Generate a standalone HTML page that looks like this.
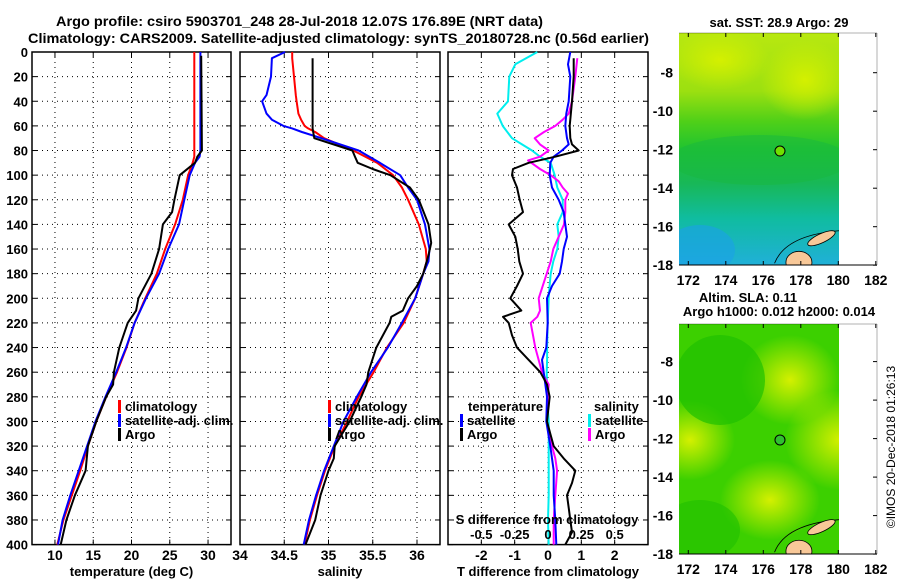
<!DOCTYPE html>
<html><head><meta charset="utf-8"><style>
body{margin:0;background:#fff;width:900px;height:580px;overflow:hidden}
svg{display:block;font-family:"Liberation Sans",sans-serif;font-weight:bold}
</style></head><body>
<svg id="c" width="900" height="580" xmlns="http://www.w3.org/2000/svg">
<defs>
<linearGradient id="sstg" x1="0" y1="0" x2="0" y2="1">
<stop offset="0" stop-color="#b8e810"/><stop offset="0.25" stop-color="#9ce010"/>
<stop offset="0.38" stop-color="#50d018"/><stop offset="0.5" stop-color="#20c430"/>
<stop offset="0.65" stop-color="#18b858"/><stop offset="0.8" stop-color="#10bca0"/>
<stop offset="1" stop-color="#20b0d8"/></linearGradient>
<radialGradient id="yel" cx="0.5" cy="0.5" r="0.5"><stop offset="0" stop-color="#d4f000"/><stop offset="1" stop-color="#d4f000" stop-opacity="0"/></radialGradient>
<clipPath id="clipSst"><rect x="679" y="33" width="160" height="232"/></clipPath>
<clipPath id="clipSla"><rect x="679" y="324" width="160" height="230"/></clipPath>
</defs>
<text x="56" y="26" font-size="14" textLength="487" lengthAdjust="spacingAndGlyphs">Argo profile: csiro 5903701_248 28-Jul-2018 12.07S 176.89E (NRT data)</text>
<text x="28" y="43" font-size="14" textLength="621" lengthAdjust="spacingAndGlyphs">Climatology: CARS2009. Satellite-adjusted climatology: synTS_20180728.nc (0.56d earlier)</text>
<g id="g"></g>
</svg>
<script>
// ---- data ----
const depthT = [0,80,85,90,100,120,140,160,180,200,220,240,260,280,300,320,340,360,380,400];
const tempClim = [28.2,28.2,28.2,28.0,27.4,26.7,25.7,24.4,23.3,21.8,20.4,19.35,18.1,16.7,15.4,14.3,13.3,12.2,11.1,10.3];
const tempSat = [29.0,29.0,28.9,28.3,27.6,26.9,26.2,24.8,23.6,21.9,20.4,19.3,18.0,16.6,15.3,14.2,13.1,12.0,11.0,10.4];
const depthTA = [3,80,85,90,100,120,130,140,160,180,200,210,220,240,260,270,280,300,320,340,360,380,400];
const tempArgo = [29.1,29.2,28.6,28.3,26.3,25.6,25.3,24.1,23.6,22.6,20.9,20.6,19.5,18.4,17.7,17.6,16.7,15.4,14.3,14.0,12.6,11.5,10.75];
const depthS = [0,5,20,35,40,50,55,60,62,65,70,80,90,100,110,120,140,160,170,180,200,220,240,260,280,300,320,340,360,380,400];
const salClim = [34.59,34.59,34.61,34.63,34.64,34.66,34.69,34.73,34.77,34.85,34.95,35.28,35.55,35.73,35.83,35.90,36.02,36.10,36.11,36.07,35.98,35.85,35.66,35.51,35.34,35.21,35.07,34.96,34.87,34.79,34.73];
const salSat = [34.51,34.36,34.35,34.30,34.25,34.30,34.36,34.49,34.59,34.70,34.92,35.34,35.58,35.81,35.90,36.00,36.09,36.14,36.13,36.07,35.98,35.83,35.67,35.48,35.32,35.17,35.06,34.95,34.86,34.78,34.72];
const depthSA = [5,60,62,70,80,85,90,95,100,110,120,140,155,165,180,190,200,210,215,220,240,260,270,280,300,320,330,340,360,380,400];
const salArgo = [34.82,34.82,34.82,34.84,35.27,35.30,35.33,35.50,35.70,35.92,36.02,36.13,36.16,36.13,36.07,36.00,35.90,35.84,35.71,35.69,35.54,35.45,35.43,35.37,35.24,35.07,35.06,35.00,34.91,34.85,34.74];
const depthD = [0,10,20,40,50,60,70,75,80,85,90,100,110,120,130,140,150,160,170,180,190,200,220,240,250,260,280,300,320,340,360,380,400];
const tdiffSat = [0.67,0.6,0.67,0.62,0.55,0.52,0.57,0.62,0.42,0.17,0.07,0.05,0.12,0.32,0.47,0.52,0.57,0.47,0.42,0.35,0.12,-0.03,-0.01,-0.05,-0.18,-0.13,-0.03,-0.05,0.07,0.17,0.17,0.22,0.25];
const depthDA = [5,20,40,60,70,75,80,85,90,95,100,110,120,130,140,150,160,170,180,190,200,210,215,220,230,240,250,260,265,270,280,300,310,320,330,340,350,360,370,380,390,400];
const tdiffArgo = [0.77,0.77,0.72,0.65,0.67,0.72,0.92,0.22,-0.58,-1.05,-1.08,-0.93,-0.85,-0.75,-1.18,-0.98,-0.91,-0.86,-0.75,-0.93,-1.13,-0.8,-1.35,-1.18,-1.08,-0.93,-0.58,-0.23,-0.13,-0.03,0.05,-0.03,0.07,0.17,0.47,0.82,0.72,0.57,0.62,0.67,0.72,0.52];
const sdiffSat = [-0.08,-0.245,-0.29,-0.30,-0.38,-0.34,-0.27,-0.195,-0.12,-0.06,0.02,0.05,0.07,0.11,0.11,0.07,0.08,0.07,0.04,0.02,0.012,0.005,-0.002,-0.007,-0.007,-0.01,-0.007,0.005,0.005,0.005,0.005,0.0,0.005];
const depthSD = [5,20,40,50,55,60,65,70,75,80,85,88,95,100,105,110,115,120,130,140,150,160,170,180,200,210,215,220,240,260,265,270,280,300,320,330,340,360,380,400];
const sdiffArgo = [0.22,0.205,0.18,0.155,0.11,0.055,-0.03,-0.1,-0.06,0.005,-0.06,-0.15,-0.06,0.02,0.08,0.11,0.15,0.13,0.13,0.12,0.08,0.04,0.02,-0.01,-0.07,-0.06,-0.08,-0.13,-0.095,-0.045,-0.02,0.005,-0.002,-0.012,0.03,0.055,0.068,0.055,0.043,0.043];
const depthTicks = [0,20,40,60,80,100,120,140,160,180,200,220,240,260,280,300,320,340,360,380,400];
const tTicks = [10,15,20,25,30];
const sTicks = [34,34.5,35,35.5,36];
const dTicks = [-2,-1,0,1,2];
const sdTicks = [-0.5,-0.25,0,0.25,0.5];
const sdTickLabels = ['-0.5','-0.25','0','0.25','0.5'];
const lonTicks = [172,174,176,178,180,182];
const latTicks = [-8,-10,-12,-14,-16,-18];
const argoLon = 176.89, argoLat = -12.07;

// ---- scales ----
const top0=52, bot0=544.6;
const yD = d => top0 + d*(bot0-top0)/400;
const P1={x0:32,x1:231,v0:7,v1:33}, P2={x0:240,x1:440,v0:34,v1:36.26}, P3={x0:448,x1:648,v0:-3,v1:3};
const sx = (P,v) => P.x0 + (v-P.v0)*(P.x1-P.x0)/(P.v1-P.v0);
const sxS = v => sx(P3, v*4);
const lonX = lon => 688.3 + (lon-172)*18.75;
const latYTop = lat => 72.7 + (-8-lat)*19.25;
const latYBot = lat => 361.6 + (-8-lat)*19.25;

const NS='http://www.w3.org/2000/svg';
const G=document.getElementById('g');
function mk(tag, attrs, parent){const e=document.createElementNS(NS,tag);for(const k in attrs)e.setAttribute(k,attrs[k]);(parent||G).appendChild(e);return e;}
function txt(x,y,s,size,anchor,parent){const e=mk('text',{x:x,y:y,'font-size':size,'text-anchor':anchor||'start'},parent);e.textContent=s;return e;}

function panel(P,name,ticks,fmt,xTitle,tx){
  const f=mk('rect',{x:P.x0,y:top0,width:P.x1-P.x0,height:bot0-top0,fill:'none',stroke:'#000','stroke-width':1.5});
  
  
  depthTicks.forEach(d=>{ if(d>0&&d<400){const l=mk('line',{x1:P.x0,x2:P.x1,y1:yD(d),y2:yD(d),stroke:'#000','stroke-dasharray':'1,4'});
    
    }
    mk('line',{x1:P.x0,x2:P.x0+5,y1:yD(d),y2:yD(d),stroke:'#000'});mk('line',{x1:P.x1-5,x2:P.x1,y1:yD(d),y2:yD(d),stroke:'#000'});});
  ticks.forEach((v,i)=>{const x=tx(v);
    if(x>P.x0+1&&x<P.x1-1){const l=mk('line',{x1:x,x2:x,y1:top0,y2:bot0,stroke:'#000','stroke-dasharray':'1,4'});
      
      }
    mk('line',{x1:x,x2:x,y1:top0,y2:top0+5,stroke:'#000'});mk('line',{x1:x,x2:x,y1:bot0-5,y2:bot0,stroke:'#000'});
    const t=txt(x,560,fmt(v),14,'middle');
    
    });
  const tt=txt((P.x0+P.x1)/2,576,xTitle,13,'middle');
  
  
}
function line(xs,ds,fx,color,name,w){
  const pts=xs.map((v,i)=>fx(v).toFixed(1)+','+yD(ds[i]).toFixed(1)).join(' ');
  const p=mk('polyline',{points:pts,fill:'none',stroke:color,'stroke-width':w||2,'stroke-linejoin':'round'});
  
  
}
function legend(x,y,color,label,name){
  const r=mk('rect',{x:x,y:y-11,width:3,height:13,fill:color});
  
  
  const t=txt(x+7,y,label,13,'start');
  
  
}

depthTicks.forEach(d=>{const t=txt(28,yD(d)+5,String(d),13,'end');
  
  });

panel(P1,'temperature-panel',tTicks,v=>String(v),'temperature (deg C)',v=>sx(P1,v));
panel(P2,'salinity-panel',sTicks,v=>String(v),'salinity',v=>sx(P2,v));
panel(P3,'difference-panel',dTicks,v=>String(v),'T difference from climatology',v=>sx(P3,v));

line(tempClim,depthT,v=>sx(P1,v),'#ff0000','temperature-climatology-line');
line(tempSat,depthT,v=>sx(P1,v),'#0000ff','temperature-satellite-line');
line(tempArgo,depthTA,v=>sx(P1,v),'#000000','temperature-argo-line');
line(salClim,depthS,v=>sx(P2,v),'#ff0000','salinity-climatology-line');
line(salSat,depthS,v=>sx(P2,v),'#0000ff','salinity-satellite-line');
line(salArgo,depthSA,v=>sx(P2,v),'#000000','salinity-argo-line');
line(sdiffSat,depthD,sxS,'#00eeee','sdiff-satellite-line');
line(sdiffArgo,depthSD,sxS,'#ff00ff','sdiff-argo-line');
line(tdiffSat,depthD,v=>sx(P3,v),'#0000ff','tdiff-satellite-line');
line(tdiffArgo,depthDA,v=>sx(P3,v),'#000000','tdiff-argo-line');

legend(118,411,'#ff0000','climatology','legend-temp-climatology');
legend(118,425,'#0000ff','satellite-adj. clim.','legend-temp-satellite');
legend(118,439,'#000000','Argo','legend-temp-argo');
legend(328,411,'#ff0000','climatology','legend-sal-climatology');
legend(328,425,'#0000ff','satellite-adj. clim.','legend-sal-satellite');
legend(328,439,'#000000','Argo','legend-sal-argo');
{const t=txt(468,411,'temperature',13);}
legend(460,425,'#0000ff','satellite','legend-tdiff-satellite');
legend(460,439,'#000000','Argo','legend-tdiff-argo');
{const t=txt(594,411,'salinity',13);}
legend(588,425,'#00eeee','satellite','legend-sdiff-satellite');
legend(588,439,'#ff00ff','Argo','legend-sdiff-argo');
{const t=txt(547,524,'S difference from climatology',13,'middle');}
sdTicks.forEach((v,i)=>{const t=txt(sxS(v),539,sdTickLabels[i],13,'middle');
  
  });

// ---- maps ----
function map(kind,latY,top,bot){
  const clip=kind==='sst'?'clipSst':'clipSla';
  const g=mk('g',{'clip-path':'url(#'+clip+')'});
  
  
  if(kind==='sst'){
    mk('rect',{x:679,y:top,width:160,height:bot-top,fill:'url(#sstg)'},g);
    mk('ellipse',{cx:805,cy:80,rx:45,ry:40,fill:'url(#yel)'},g);
    mk('ellipse',{cx:720,cy:60,rx:50,ry:30,fill:'url(#yel)'},g);
    mk('ellipse',{cx:760,cy:160,rx:90,ry:25,fill:'#18b840',opacity:0.5},g);
    mk('ellipse',{cx:700,cy:250,rx:35,ry:25,fill:'#1aa0e8',opacity:0.6},g);
  } else {
    mk('rect',{x:679,y:top,width:160,height:bot-top,fill:'#3cd000'},g);
    mk('ellipse',{cx:790,cy:380,rx:50,ry:45,fill:'url(#yel)'},g);
    mk('ellipse',{cx:840,cy:440,rx:55,ry:50,fill:'url(#yel)'},g);
    mk('ellipse',{cx:690,cy:440,rx:45,ry:40,fill:'url(#yel)'},g);
    mk('ellipse',{cx:770,cy:500,rx:50,ry:40,fill:'url(#yel)'},g);
    mk('ellipse',{cx:720,cy:380,rx:45,ry:45,fill:'#20c000',opacity:0.7},g);
    mk('ellipse',{cx:700,cy:530,rx:40,ry:30,fill:'#20c000',opacity:0.6},g);
  }
  // Fiji (clipped)
  mk('path',{d:'M'+lonX(176.6)+' '+latY(-17.9)+' Q'+lonX(177.2)+' '+latY(-16.4)+' '+lonX(180.2)+' '+latY(-16.2),fill:'none',stroke:'#000','stroke-width':0.8},g);
  const v=mk('ellipse',{cx:lonX(177.9),cy:latY(-17.85),rx:13,ry:11,fill:'#f8c898',stroke:'#000','stroke-width':0.8},g);
  
  
  const cx=lonX(179.1), cy=latY(-16.6);
  const vl=mk('ellipse',{cx:cx,cy:cy,rx:15,ry:4.5,fill:'#f8c898',stroke:'#000','stroke-width':0.8,transform:'rotate(-25 '+cx+' '+cy+')'},g);
  
  
  mk('line',{x1:679,x2:877,y1:bot,y2:bot,stroke:'#000'});
  mk('line',{x1:679,x2:877,y1:top,y2:top,stroke:'#000','stroke-opacity':0.3});
  mk('line',{x1:877,x2:877,y1:top,y2:bot,stroke:'#000','stroke-opacity':0.3});
  lonTicks.forEach(l=>{mk('line',{x1:lonX(l),x2:lonX(l),y1:bot,y2:bot-4,stroke:'#000'});mk('line',{x1:lonX(l),x2:lonX(l),y1:top,y2:top+4,stroke:'#000'});
    const t=txt(lonX(l),bot+20,String(l),14,'middle');
    
    });
  latTicks.forEach(l=>{mk('line',{x1:873,x2:877,y1:latY(l),y2:latY(l),stroke:'#000'});
    const t=txt(673,latY(l)+5,String(l),14,'end');
    
    });
  const c=mk('circle',{cx:lonX(argoLon),cy:latY(argoLat),r:5,fill:kind==='sst'?'#70e000':'#30c030',stroke:'#000','stroke-width':1});
  
  
}
map('sst',latYTop,33,265);
map('sla',latYBot,324,554);
{const t=txt(779,27,'sat. SST: 28.9 Argo: 29',13,'middle');}
{const t=txt(748,302,'Altim. SLA: 0.11',13,'middle');}
{const t=txt(779,316,'Argo h1000: 0.012 h2000: 0.014',13,'middle');}
{const t=mk('text',{x:0,y:0,'font-size':12,'font-weight':'normal','text-anchor':'middle',transform:'translate(895 447) rotate(-90)'});t.textContent='©IMOS 20-Dec-2018 01:26:13';}
</script>
</body></html>
